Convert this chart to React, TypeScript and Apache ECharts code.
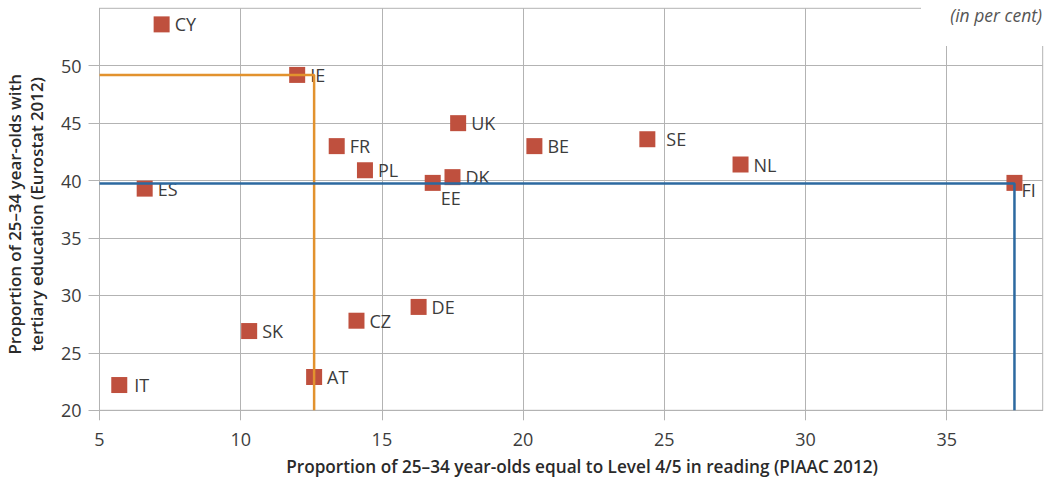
import React, { useEffect, useRef } from "react";
import * as echarts from "echarts";

const countries = ["CY", "IE", "ES", "FR", "PL", "UK", "BE", "SE", "DK", "EE", "NL", "FI", "DE", "CZ", "SK", "IT", "AT"];
const readingLevel45 = [7.2, 12.0, 6.6, 13.4, 14.4, 17.7, 20.4, 24.4, 17.5, 16.8, 27.7, 37.4, 16.3, 14.1, 10.3, 5.7, 12.6];
const tertiaryEducation = [53.6, 49.2, 39.3, 43.0, 40.9, 45.0, 43.0, 43.6, 40.3, 39.8, 41.4, 39.8, 29.0, 27.8, 26.9, 22.2, 22.9];

const orangeGuideX = [5, 12.6, 12.6];
const orangeGuideY = [49.2, 49.2, 20];
const blueGuideX = [5, 37.4, 37.4];
const blueGuideY = [39.75, 39.75, 20];

const xTicks = [5, 10, 15, 20, 25, 30, 35];
const yTicks = [20, 25, 30, 35, 40, 45, 50];

const xAxisTitle = "Proportion of 25\u201334 year-olds equal to Level 4/5 in reading (PIAAC 2012)";
const yAxisTitle = "Proportion of 25\u201334 year-olds with\ntertiary education (Eurostat 2012)";
const unitNote = "(in per cent)";

const FONT = "'Open Sans', 'Noto Sans', sans-serif";
const GRID_COLOR = "#b3b3b3";
const TEXT_COLOR = "#3c3c3c";

export default function App() {
  const ref = useRef<HTMLDivElement>(null);

  useEffect(() => {
    if (!ref.current) return;
    const chart = echarts.init(ref.current, null, { renderer: "svg" });

    const labelFor = (c: string): any => {
      if (c === "EE") return { show: true, position: [16, 14], align: "left", verticalAlign: "top" };
      if (c === "FI") return { show: true, position: "right", distance: -1, offset: [0, 7] };
      if (c === "SE") return { show: true, position: "right", distance: 11 };
      if (c === "IT") return { show: true, position: "right", distance: 7 };
      return { show: true, position: "right", distance: 5 };
    };

    const points = countries.map((c, i) => ({
      name: c,
      value: [readingLevel45[i], tertiaryEducation[i]],
      label: labelFor(c),
    }));

    chart.setOption({
      animation: false,
      textStyle: { fontFamily: FONT },
      grid: {
        left: 99.5,
        right: 7.3,
        top: 8.3,
        bottom: 72.7,
        containLabel: false,
        outerBoundsMode: "none",
        show: true,
        borderColor: GRID_COLOR,
        borderWidth: 1,
        backgroundColor: "transparent",
      },
      xAxis: {
        type: "value",
        min: 5,
        max: 38.4,
        interval: 5,
        axisLine: { show: true, lineStyle: { color: GRID_COLOR, width: 1 } },
        axisTick: { show: true, length: 10, lineStyle: { color: GRID_COLOR }, customValues: xTicks },
        axisLabel: {
          customValues: xTicks,
          color: TEXT_COLOR,
          fontSize: 18,
          fontFamily: FONT,
          margin: 20,
          formatter: (v: number) => (v % 5 === 0 && v <= 35 ? String(v) : ""),
        },
        splitLine: { show: true, lineStyle: { color: GRID_COLOR, width: 1 } },
        name: xAxisTitle,
        nameLocation: "middle",
        nameGap: 48,
        nameTextStyle: {
          fontSize: 17.2,
          fontWeight: 600,
          color: "#2a2a2a",
          fontFamily: FONT,
          padding: [0, 0, 0, 22],
        },
      },
      yAxis: {
        type: "value",
        min: 20,
        max: 55,
        interval: 5,
        axisLine: { show: true, lineStyle: { color: GRID_COLOR, width: 1 } },
        axisTick: { show: true, length: 11, lineStyle: { color: GRID_COLOR }, customValues: yTicks },
        axisLabel: {
          customValues: yTicks,
          color: TEXT_COLOR,
          fontSize: 18,
          fontFamily: FONT,
          margin: 18,
          formatter: (v: number) => (v <= 50 ? String(v) : ""),
        },
        splitLine: { show: true, lineStyle: { color: GRID_COLOR, width: 1 } },
        name: yAxisTitle,
        nameLocation: "middle",
        nameGap: 52,
        nameTextStyle: {
          fontSize: 16.9,
          fontWeight: 600,
          color: "#2a2a2a",
          fontFamily: FONT,
          lineHeight: 22,
          padding: [0, 10, 0, 0],
        },
      },
      series: [
        {
          type: "scatter",
          symbol: "rect",
          symbolSize: 16,
          itemStyle: { color: "#bf503e", opacity: 1 },
          label: { color: TEXT_COLOR, fontSize: 18, fontFamily: FONT, formatter: "{b}" },
          data: points,
          z: 2,
        },
        {
          type: "line",
          data: orangeGuideX.map((x, i) => [x, orangeGuideY[i]]),
          symbol: "none",
          lineStyle: { color: "#e2922e", width: 2.5 },
          z: 3,
          silent: true,
        },
        {
          type: "line",
          data: blueGuideX.map((x, i) => [x, blueGuideY[i]]),
          symbol: "none",
          lineStyle: { color: "#2c69a0", width: 2.5 },
          z: 3,
          silent: true,
        },
      ],
      graphic: [
        {
          type: "rect",
          left: 921,
          top: 0,
          shape: { width: 129, height: 46 },
          style: { fill: "#ffffff" },
          z: 100,
        },
        {
          type: "text",
          right: 8,
          top: 6,
          style: {
            text: unitNote,
            font: `italic 17.5px ${FONT}`,
            fill: "#555555",
          },
          z: 101,
        },
      ],
    });

    return () => chart.dispose();
  }, []);

  return (
    <div
      ref={ref}
      style={{ position: "fixed", left: 0, top: 0, width: 1050, height: 483, background: "#fff" }}
    />
  );
}
